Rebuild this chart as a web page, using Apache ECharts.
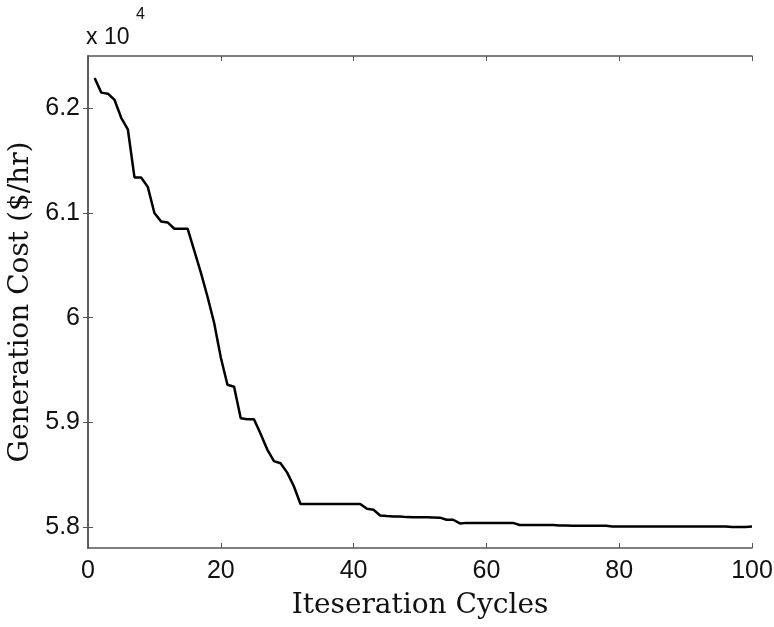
<!DOCTYPE html>
<html>
<head>
<meta charset="utf-8">
<script src="https://cdn.jsdelivr.net/npm/echarts@6/dist/echarts.min.js"></script>
<style>
html,body{margin:0;padding:0;background:#fff}
#zjt{width:774px;height:627px}
</style>
</head>
<body>
<div id="zjt"></div>
<script>
// 迭代次数 1..100
var cycles = []
for (var i = 1; i <= 100; i++) cycles.push(i)

// 发电成本 ($/hr)
var cost = [
    62290, 62150, 62140, 62080, 61910, 61800, 61340, 61340, 61250, 61000,
    60920, 60910, 60850, 60850, 60850, 60640, 60430, 60200, 59950, 59620,
    59360, 59340, 59040, 59030, 59030, 58890, 58740, 58630, 58610, 58520,
    58390, 58220, 58220, 58220, 58220, 58220, 58220, 58220, 58220, 58220,
    58220, 58175, 58165, 58110, 58105, 58102, 58102, 58095, 58093, 58093,
    58093, 58092, 58090, 58070, 58070, 58035, 58040, 58040, 58040, 58040,
    58040, 58040, 58040, 58040, 58020, 58020, 58020, 58020, 58020, 58020,
    58015, 58014, 58013, 58013, 58012, 58012, 58012, 58012, 58005, 58005,
    58005, 58005, 58005, 58005, 58005, 58005, 58005, 58005, 58005, 58005,
    58005, 58005, 58005, 58005, 58005, 58005, 58000, 58000, 58000, 58005
]

var yTicks = [58000, 59000, 60000, 61000, 62000]
var yMin = 57800, yMax = 62500

var myChart = echarts.init(document.getElementById('zjt'))
var axisCol = '#555'
var tickFont = {fontFamily: 'Liberation Sans', fontSize: 25, color: '#111'}
var nameFont = {fontFamily: 'DejaVu Serif', fontSize: 28, color: '#111'}

myChart.setOption({
    animation: false,
    grid: {left: 88, right: 22, top: 56, bottom: 79, outerBoundsMode: 'none'},
    graphic: [
        {type: 'text', left: 86, top: 26, style: {text: 'x 10', fontFamily: 'Liberation Sans', fontSize: 23, fill: '#111'}},
        {type: 'text', left: 136, top: 7, style: {text: '4', fontFamily: 'Liberation Sans', fontSize: 16, fill: '#111'}}
    ],
    xAxis: [{
        type: 'value', min: 0, max: 100, interval: 20,
        name: 'Iteseration Cycles', nameLocation: 'middle', nameGap: 44,
        nameTextStyle: nameFont,
        axisLine: {lineStyle: {color: axisCol, width: 1.5}},
        axisTick: {inside: true, length: 5, lineStyle: {color: axisCol}},
        axisLabel: Object.assign({margin: 11}, tickFont),
        splitLine: {show: false}
    }, {
        type: 'value', position: 'top', min: 0, max: 100, interval: 20,
        axisLine: {lineStyle: {color: axisCol, width: 1.5}},
        axisTick: {inside: true, length: 5, lineStyle: {color: axisCol}},
        axisLabel: {show: false},
        splitLine: {show: false}
    }],
    yAxis: [{
        type: 'value', min: yMin, max: yMax,
        name: 'Generation Cost ($/hr)', nameLocation: 'middle', nameGap: 49, nameRotate: 90,
        nameTextStyle: nameFont,
        axisLine: {show: true, lineStyle: {color: axisCol, width: 1.5}},
        axisTick: {show: true, inside: true, length: 5, customValues: yTicks, lineStyle: {color: axisCol}},
        axisLabel: Object.assign({margin: 8, customValues: yTicks, formatter: v => String(+(v / 10000).toFixed(1))}, tickFont),
        splitLine: {show: false}
    }, {
        type: 'value', position: 'right', min: yMin, max: yMax,
        axisLine: {show: true, lineStyle: {color: axisCol, width: 1.5}},
        axisTick: {show: true, inside: true, length: 5, customValues: yTicks, lineStyle: {color: axisCol}},
        axisLabel: {show: false},
        splitLine: {show: false}
    }],
    series: [{
        type: 'line',
        xAxisIndex: 0, yAxisIndex: 0,
        data: cycles.map((c, i) => [c, cost[i]]),
        showSymbol: false,
        lineStyle: {color: '#000', width: 2.5}
    }]
})
</script>
</body>
</html>
